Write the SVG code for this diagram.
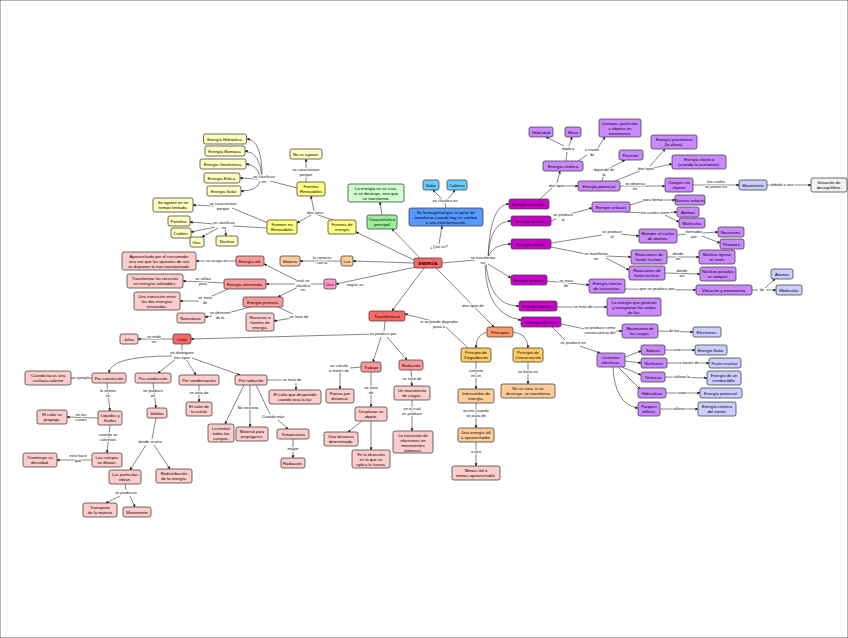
<svg xmlns="http://www.w3.org/2000/svg" width="848" height="638" viewBox="0 0 848 638">
<style>
rect{stroke:#444;stroke-width:0.8}
.t{font-family:"Liberation Sans",Arial,sans-serif;font-size:4.2px;text-anchor:middle;fill:#000}
.l{font-family:"Liberation Sans",Arial,sans-serif;font-size:4px;text-anchor:middle;fill:#111;stroke:#fff;stroke-width:1.6px;paint-order:stroke}
#c path{fill:none;stroke:#333;stroke-width:0.6}
.y1{fill:#ffff80}.y2{fill:#ffffc0}.g1{fill:#99ee99}.g2{fill:#ccffcc}.b1{fill:#5599ff}.b2{fill:#66ccff}
.m1{fill:#cc00cc}.m2{fill:#cc88ff}.m3{fill:#ccccff}.w{fill:#f2f2f2}
.r1{fill:#ff6666}.r2{fill:#ff9999}.r3{fill:#ffcccc}.o1{fill:#ff9966}.o2{fill:#ffcc66}.o3{fill:#ffcc99}.p{fill:#ff99cc}
</style>
<defs><marker id="a" viewBox="0 0 10 10" refX="9" refY="5" markerWidth="5" markerHeight="5" orient="auto"><path d="M0,0 L10,5 L0,10 z" fill="#222"/></marker></defs>
<rect x="0" y="0" width="848" height="638" fill="#fff" stroke="none"/>
<g id="c">
<path d="M439,244 L442,226" marker-end="url(#a)"/>
<path d="M420,258 L392,229" marker-end="url(#a)"/>
<path d="M382,215 L380,202" marker-end="url(#a)"/>
<path d="M414,260 L356,232" marker-end="url(#a)"/>
<path d="M414,263 L353,261" marker-end="url(#a)"/>
<path d="M341,261 L300,261" marker-end="url(#a)"/>
<path d="M416,267 L336,284" marker-end="url(#a)"/>
<path d="M424,268 L392,311" marker-end="url(#a)"/>
<path d="M436,268 L494,327" marker-end="url(#a)"/>
<path d="M442,263 L475,260"/>
<path d="M488,258 Q490,204 509,204" marker-end="url(#a)"/>
<path d="M488,258 Q490,221 511,221" marker-end="url(#a)"/>
<path d="M488,258 Q492,244 511,244" marker-end="url(#a)"/>
<path d="M488,264 L511,278" marker-end="url(#a)"/>
<path d="M486,264 Q490,306 519,306" marker-end="url(#a)"/>
<path d="M485,264 Q486,315 521,320" marker-end="url(#a)"/>
<path d="M446,208 L445,203"/><path d="M442,199 L433,190" marker-end="url(#a)"/><path d="M448,199 L455,190" marker-end="url(#a)"/>
<path d="M333,220 L318,215"/><path d="M314,211 L311,196" marker-end="url(#a)"/><path d="M311,215 L297,223" marker-end="url(#a)"/>
<path d="M306,182 L306,175"/><path d="M306,169 L306,159" marker-end="url(#a)"/>
<path d="M297,188 L270,181"/>
<path d="M262,177 Q262,140 247,139" marker-end="url(#a)"/>
<path d="M262,177 Q260,152 245,151" marker-end="url(#a)"/>
<path d="M260,177 Q258,165 246,164" marker-end="url(#a)"/>
<path d="M258,179 L240,178" marker-end="url(#a)"/>
<path d="M260,181 Q258,191 241,191" marker-end="url(#a)"/>
<path d="M268,223 L232,208"/><path d="M214,206 L193,205" marker-end="url(#a)"/>
<path d="M267,228 L233,226"/>
<path d="M215,224 L190,222" marker-end="url(#a)"/><path d="M215,227 L191,232" marker-end="url(#a)"/><path d="M218,228 L202,237" marker-end="url(#a)"/><path d="M225,228 L226,236" marker-end="url(#a)"/>
<path d="M324,284 L311,284"/>
<path d="M298,281 L264,264" marker-end="url(#a)"/><path d="M295,284 L266,284" marker-end="url(#a)"/><path d="M298,287 L278,297" marker-end="url(#a)"/>
<path d="M236,261 L196,261" marker-end="url(#a)"/>
<path d="M224,283 L183,281" marker-end="url(#a)"/>
<path d="M228,289 L210,297"/><path d="M199,301 L180,301" marker-end="url(#a)"/>
<path d="M250,307 L228,313"/><path d="M212,316 L205,317" marker-end="url(#a)"/>
<path d="M278,307 L293,314"/><path d="M292,318 L274,321" marker-end="url(#a)"/>
<path d="M385,321 L384,331"/>
<path d="M376,334 L191,339" marker-end="url(#a)"/>
<path d="M381,337 L373,362" marker-end="url(#a)"/>
<path d="M387,337 L407,360" marker-end="url(#a)"/>
<path d="M490,332 Q476,332 476,348" marker-end="url(#a)"/>
<path d="M510,332 Q528,332 528,348" marker-end="url(#a)"/>
<path d="M468,348 L446,327"/><path d="M432,321 L405,314" marker-end="url(#a)"/>
<path d="M476,362 L476,389" marker-end="url(#a)"/>
<path d="M476,403 L476,428" marker-end="url(#a)"/>
<path d="M476,442 L476,466" marker-end="url(#a)"/>
<path d="M528,362 L528,384" marker-end="url(#a)"/>
<path d="M361,367 L350,368"/><path d="M340,371 L340,389" marker-end="url(#a)"/>
<path d="M371,372 L371,407" marker-end="url(#a)"/>
<path d="M362,421 L348,432" marker-end="url(#a)"/>
<path d="M371,421 L371,450" marker-end="url(#a)"/>
<path d="M411,370 L412,386" marker-end="url(#a)"/>
<path d="M412,400 L412,431" marker-end="url(#a)"/>
<path d="M173,339 L138,339" marker-end="url(#a)"/>
<path d="M182,344 L182,351"/>
<path d="M172,356 Q110,356 109,373" marker-end="url(#a)"/>
<path d="M176,359 L158,373" marker-end="url(#a)"/>
<path d="M186,359 L196,375" marker-end="url(#a)"/>
<path d="M192,358 L240,375" marker-end="url(#a)"/>
<path d="M92,378 L71,378" marker-end="url(#a)"/>
<path d="M107,383 L110,411" marker-end="url(#a)"/>
<path d="M98,418 L67,417" marker-end="url(#a)"/>
<path d="M110,425 L107,453" marker-end="url(#a)"/>
<path d="M92,460 L57,460" marker-end="url(#a)"/>
<path d="M153,383 L156,408" marker-end="url(#a)"/>
<path d="M156,418 L152,439"/><path d="M146,445 L130,470" marker-end="url(#a)"/><path d="M154,445 L170,469" marker-end="url(#a)"/>
<path d="M125,484 L126,490"/><path d="M120,496 L106,503" marker-end="url(#a)"/><path d="M130,496 L135,507" marker-end="url(#a)"/>
<path d="M199,385 L199,402" marker-end="url(#a)"/>
<path d="M267,380 L283,380"/><path d="M296,383 L296,390" marker-end="url(#a)"/>
<path d="M244,385 L225,424" marker-end="url(#a)"/>
<path d="M250,385 L250,427" marker-end="url(#a)"/>
<path d="M256,385 L270,414"/><path d="M278,420 L288,429" marker-end="url(#a)"/>
<path d="M293,439 L293,458" marker-end="url(#a)"/>
<path d="M540,199 L552,188"/><path d="M557,183 L560,171" marker-end="url(#a)"/><path d="M563,186 L578,186" marker-end="url(#a)"/>
<path d="M566,161 L567,152"/><path d="M564,146 L546,137" marker-end="url(#a)"/><path d="M569,146 L572,137" marker-end="url(#a)"/>
<path d="M578,161 L587,155"/><path d="M597,149 L605,137" marker-end="url(#a)"/>
<path d="M602,181 L604,175"/><path d="M608,169 L625,160" marker-end="url(#a)"/>
<path d="M615,181 L640,171"/><path d="M650,166 L665,149" marker-end="url(#a)"/><path d="M653,168 L672,164" marker-end="url(#a)"/>
<path d="M620,186 L665,186" marker-end="url(#a)"/>
<path d="M693,185 L739,185" marker-end="url(#a)"/>
<path d="M767,185 L811,185" marker-end="url(#a)"/>
<path d="M551,221 L556,219"/><path d="M570,214 L592,208" marker-end="url(#a)"/>
<path d="M630,205 L643,201"/><path d="M663,200 L675,200" marker-end="url(#a)"/>
<path d="M625,212 L645,213"/><path d="M665,213 L677,212" marker-end="url(#a)"/><path d="M665,215 L679,222" marker-end="url(#a)"/>
<path d="M551,243 L602,235"/><path d="M621,234 L639,236" marker-end="url(#a)"/>
<path d="M677,235 L686,234"/><path d="M702,233 L718,232" marker-end="url(#a)"/><path d="M702,236 L720,243" marker-end="url(#a)"/>
<path d="M551,247 L586,254"/><path d="M606,256 L631,257" marker-end="url(#a)"/><path d="M606,258 L629,270" marker-end="url(#a)"/>
<path d="M667,257 L699,257" marker-end="url(#a)"/>
<path d="M665,273 L700,274" marker-end="url(#a)"/>
<path d="M547,281 L589,285" marker-end="url(#a)"/>
<path d="M625,289 L696,290" marker-end="url(#a)"/>
<path d="M752,290 L758,290"/><path d="M765,288 L775,279" marker-end="url(#a)"/><path d="M766,290 L776,290" marker-end="url(#a)"/>
<path d="M557,307 L607,307" marker-end="url(#a)"/>
<path d="M561,324 L585,329"/><path d="M616,331 L622,331" marker-end="url(#a)"/>
<path d="M658,331 L693,332" marker-end="url(#a)"/>
<path d="M552,327 L565,340"/><path d="M580,346 L600,353" marker-end="url(#a)"/>
<path d="M625,357 L641,351" marker-end="url(#a)"/>
<path d="M625,361 L641,363" marker-end="url(#a)"/>
<path d="M622,367 L641,375" marker-end="url(#a)"/>
<path d="M618,367 L640,389" marker-end="url(#a)"/>
<path d="M613,367 Q615,405 638,408" marker-end="url(#a)"/>
<path d="M665,350 L695,350" marker-end="url(#a)"/>
<path d="M667,363 L709,363" marker-end="url(#a)"/>
<path d="M665,377 L707,378" marker-end="url(#a)"/>
<path d="M666,393 L700,393" marker-end="url(#a)"/>
<path d="M660,409 L698,409" marker-end="url(#a)"/>
</g>
<g id="labels">
<text class="l" x="439" y="248">¿Qué es?</text>
<text class="l" x="322" y="259"><tspan x="322">la conecta</tspan><tspan x="322" dy="4.5">con la</tspan></text>
<text class="l" x="355" y="286">según su</text>
<text class="l" x="473" y="307">dos tipos de</text>
<text class="l" x="483" y="259"><tspan x="483">se transforma</tspan><tspan x="483" dy="4.5">en</tspan></text>
<text class="l" x="445" y="202">se clasifica en</text>
<text class="l" x="315" y="214">dos tipos</text>
<text class="l" x="306" y="171"><tspan x="306">se caracterizan</tspan><tspan x="306" dy="4.5">porque</tspan></text>
<text class="l" x="264" y="178"><tspan x="264">se clasifican</tspan><tspan x="264" dy="4.5">en</tspan></text>
<text class="l" x="223" y="205"><tspan x="223">se caracterizan</tspan><tspan x="223" dy="4.5">porque</tspan></text>
<text class="l" x="224" y="224"><tspan x="224">se clasifican</tspan><tspan x="224" dy="4.5">en</tspan></text>
<text class="l" x="303" y="282"><tspan x="303">está se</tspan><tspan x="303" dy="4.5">clasifica</tspan><tspan x="303" dy="4.5">en</tspan></text>
<text class="l" x="217" y="262">se ocupa en</text>
<text class="l" x="203" y="280"><tspan x="203">se utiliza</tspan><tspan x="203" dy="4.5">para</tspan></text>
<text class="l" x="205" y="299"><tspan x="205">se trata</tspan><tspan x="205" dy="4.5">de</tspan></text>
<text class="l" x="220" y="314"><tspan x="220">se obtienen</tspan><tspan x="220" dy="4.5">de la</tspan></text>
<text class="l" x="299" y="318">se trata de</text>
<text class="l" x="383" y="335">se produce por</text>
<text class="l" x="439" y="323"><tspan x="439">si se puede degradar</tspan><tspan x="439" dy="4.5">pasa a</tspan></text>
<text class="l" x="476" y="372"><tspan x="476">consiste</tspan><tspan x="476" dy="4.5">en un</tspan></text>
<text class="l" x="476" y="412"><tspan x="476">ocurre cuando</tspan><tspan x="476" dy="4.5">se pasa de</tspan></text>
<text class="l" x="476" y="453">a otra</text>
<text class="l" x="528" y="373">se basa en</text>
<text class="l" x="339" y="367"><tspan x="339">se calcula</tspan><tspan x="339" dy="4.5">a través de</tspan></text>
<text class="l" x="371" y="389"><tspan x="371">se trata</tspan><tspan x="371" dy="4.5">de</tspan></text>
<text class="l" x="412" y="380">se trata de</text>
<text class="l" x="412" y="410"><tspan x="412">en el cual</tspan><tspan x="412" dy="4.5">se produce</tspan></text>
<text class="l" x="154" y="338"><tspan x="154">se mide</tspan><tspan x="154" dy="4.5">en</tspan></text>
<text class="l" x="182" y="354"><tspan x="182">se distinguen</tspan><tspan x="182" dy="4.5">tres tipos</tspan></text>
<text class="l" x="80" y="379">por ejemplo</text>
<text class="l" x="108" y="392"><tspan x="108">lo vemos</tspan><tspan x="108" dy="4.5">en</tspan></text>
<text class="l" x="81" y="416"><tspan x="81">en los</tspan><tspan x="81" dy="4.5">cuales</tspan></text>
<text class="l" x="108" y="436"><tspan x="108">cuando se</tspan><tspan x="108" dy="4.5">calientan</tspan></text>
<text class="l" x="78" y="457"><tspan x="78">esto hace</tspan><tspan x="78" dy="4.5">que</tspan></text>
<text class="l" x="153" y="392"><tspan x="153">se produce</tspan><tspan x="153" dy="4.5">en</tspan></text>
<text class="l" x="150" y="443">donde ocurre</text>
<text class="l" x="126" y="494">se producen</text>
<text class="l" x="199" y="394">se trata de</text>
<text class="l" x="292" y="381">se trata de</text>
<text class="l" x="248" y="409">No necesita</text>
<text class="l" x="273" y="418">Cuando más</text>
<text class="l" x="293" y="450">mayor</text>
<text class="l" x="557" y="187">dos tipos</text>
<text class="l" x="568" y="150">implica</text>
<text class="l" x="592" y="151"><tspan x="592">a través</tspan><tspan x="592" dy="4.5">de</tspan></text>
<text class="l" x="604" y="171"><tspan x="604">depende de</tspan><tspan x="604" dy="4.5">la</tspan></text>
<text class="l" x="646" y="170">dos tipos</text>
<text class="l" x="635" y="185"><tspan x="635">se observa</tspan><tspan x="635" dy="4.5">en</tspan></text>
<text class="l" x="716" y="183"><tspan x="716">los cuales</tspan><tspan x="716" dy="4.5">se ponen en</tspan></text>
<text class="l" x="782" y="186">debido a una</text>
<text class="l" x="563" y="216"><tspan x="563">se produce</tspan><tspan x="563" dy="4.5">al</tspan></text>
<text class="l" x="653" y="201">para formar</text>
<text class="l" x="655" y="214">los cuales unen</text>
<text class="l" x="612" y="233"><tspan x="612">se produce</tspan><tspan x="612" dy="4.5">al</tspan></text>
<text class="l" x="694" y="233"><tspan x="694">formados</tspan><tspan x="694" dy="4.5">por</tspan></text>
<text class="l" x="596" y="255"><tspan x="596">se manifiesta</tspan><tspan x="596" dy="4.5">en</tspan></text>
<text class="l" x="678" y="255"><tspan x="678">donde</tspan><tspan x="678" dy="4.5">los</tspan></text>
<text class="l" x="682" y="272"><tspan x="682">donde</tspan><tspan x="682" dy="4.5">los</tspan></text>
<text class="l" x="566" y="282"><tspan x="566">se trata</tspan><tspan x="566" dy="4.5">de</tspan></text>
<text class="l" x="657" y="290">que se produce por</text>
<text class="l" x="762" y="291">de</text>
<text class="l" x="583" y="308">se trata de</text>
<text class="l" x="600" y="329"><tspan x="600">se produce como</tspan><tspan x="600" dy="4.5">consecuencia del</tspan></text>
<text class="l" x="674" y="332">de las</text>
<text class="l" x="573" y="344">se produce en</text>
<text class="l" x="677" y="351">usan</text>
<text class="l" x="689" y="364">a través de</text>
<text class="l" x="682" y="378">utilizan la</text>
<text class="l" x="682" y="394">usan</text>
<text class="l" x="679" y="410">utilizan</text>
</g>
<g id="n_energia" class="r1"><rect x="414" y="258" width="28" height="10" rx="2"/><text class="t" x="428" y="264.5" font-weight="bold">ENERGÍA</text></g>
<g id="n_mag" class="b1"><rect x="409" y="208" width="74" height="18" rx="2"/><text class="t" x="446" y="214"><tspan x="446">Es la magnitud que se pone de</tspan><tspan x="446" dy="5">manifiesto cuando hay un cambio</tspan><tspan x="446" dy="5">o una transformación.</tspan></text></g>
<g id="n_solar" class="b2"><rect x="423" y="180" width="16" height="10" rx="2"/><text class="t" x="431" y="186.5">Solar</text></g>
<g id="n_calorica" class="b2"><rect x="447" y="180" width="20" height="10" rx="2"/><text class="t" x="457" y="186.5">Calórica</text></g>
<g id="n_caract" class="g1"><rect x="367" y="215" width="30" height="14" rx="2"/><text class="t" x="382" y="221"><tspan x="382">Característica</tspan><tspan x="382" dy="5">principal</tspan></text></g>
<g id="n_nosecrea" class="g2"><rect x="348" y="184" width="56" height="18" rx="2"/><text class="t" x="376" y="190"><tspan x="376">La energía no se crea,</tspan><tspan x="376" dy="5">ni se destruye, sino que</tspan><tspan x="376" dy="5">se transforma.</tspan></text></g>
<g id="n_fuentes" class="y1"><rect x="328" y="220" width="28" height="14" rx="2"/><text class="t" x="342" y="226"><tspan x="342">Fuentes de</tspan><tspan x="342" dy="5">energía</tspan></text></g>
<g id="n_renov" class="y1"><rect x="297" y="182" width="28" height="14" rx="2"/><text class="t" x="311" y="188"><tspan x="311">Fuentes</tspan><tspan x="311" dy="5">Renovables</tspan></text></g>
<g id="n_norenov" class="y1"><rect x="267" y="220" width="30" height="14" rx="2"/><text class="t" x="282" y="226"><tspan x="282">Fuentes no</tspan><tspan x="282" dy="5">Renovables</tspan></text></g>
<g id="n_noagotan" class="y2"><rect x="290" y="149" width="32" height="10" rx="2"/><text class="t" x="306" y="155.5">No se agotan.</text></g>
<g id="n_hidr" class="y2"><rect x="203.5" y="134" width="43" height="10" rx="2"/><text class="t" x="225" y="140.5">Energía Hidráulica.</text></g>
<g id="n_biom" class="y2"><rect x="205" y="146" width="40" height="10" rx="2"/><text class="t" x="225" y="152.5">Energía Biomasa.</text></g>
<g id="n_geot" class="y2"><rect x="200" y="159" width="46" height="10" rx="2"/><text class="t" x="223" y="165.5">Energía Geotérmica.</text></g>
<g id="n_eol" class="y2"><rect x="204" y="173" width="36" height="10" rx="2"/><text class="t" x="222" y="179.5">Energía Eólica.</text></g>
<g id="n_sol" class="y2"><rect x="207" y="186" width="34" height="10" rx="2"/><text class="t" x="224" y="192.5">Energía Solar.</text></g>
<g id="n_seagotan" class="y2"><rect x="153" y="198" width="40" height="14" rx="2"/><text class="t" x="173" y="204"><tspan x="173">Se agotan en un</tspan><tspan x="173" dy="5">tiempo limitado.</tspan></text></g>
<g id="n_petroleo" class="y2"><rect x="168" y="216" width="22" height="10" rx="2"/><text class="t" x="179" y="222.5">Petróleo.</text></g>
<g id="n_carbon" class="y2"><rect x="171" y="228" width="20" height="10" rx="2"/><text class="t" x="181" y="234.5">Carbón.</text></g>
<g id="n_gas" class="y2"><rect x="190" y="237" width="14" height="10" rx="2"/><text class="t" x="197" y="243.5">Gas.</text></g>
<g id="n_nuclear" class="y2"><rect x="216" y="236" width="22" height="10" rx="2"/><text class="t" x="227" y="242.5">Nuclear</text></g>
<g id="n_luz" class="o3"><rect x="341" y="256" width="12" height="10" rx="2"/><text class="t" x="347" y="262.5">Luz</text></g>
<g id="n_materia" class="o3"><rect x="280" y="256" width="20" height="10" rx="2"/><text class="t" x="290" y="262.5">Materia</text></g>
<g id="n_uso" class="p"><rect x="324" y="279" width="12" height="10" rx="2"/><text class="t" x="330" y="285.5">Uso</text></g>
<g id="n_util" class="r2"><rect x="236" y="256" width="28" height="10" rx="2"/><text class="t" x="250" y="262.5">Energía útil.</text></g>
<g id="n_inter" class="r2"><rect x="224" y="279" width="42" height="10" rx="2"/><text class="t" x="245" y="285.5">Energía intermedia.</text></g>
<g id="n_prim" class="r2"><rect x="243" y="297" width="40" height="10" rx="2"/><text class="t" x="263" y="303.5">Energía primaria.</text></g>
<g id="n_aprov" class="r3"><rect x="122" y="252" width="74" height="18" rx="2"/><text class="t" x="159" y="258"><tspan x="159">Aprovechada por el consumidor</tspan><tspan x="159" dy="5">una vez que los aparatos de uso</tspan><tspan x="159" dy="5">se disponen la han transformado.</tspan></text></g>
<g id="n_transf" class="r3"><rect x="127" y="274" width="56" height="14" rx="2"/><text class="t" x="155" y="280"><tspan x="155">Transformar los recursos</tspan><tspan x="155" dy="5">en energías utilizables.</tspan></text></g>
<g id="n_transic" class="r3"><rect x="134" y="292" width="46" height="18" rx="2"/><text class="t" x="157" y="298"><tspan x="157">Una transición entre</tspan><tspan x="157" dy="5">las dos energías</tspan><tspan x="157" dy="5">renovadas.</tspan></text></g>
<g id="n_natur" class="r3"><rect x="177" y="313" width="28" height="10" rx="2"/><text class="t" x="191" y="319.5">Naturaleza.</text></g>
<g id="n_recursos" class="r3"><rect x="246" y="313" width="28" height="18" rx="2"/><text class="t" x="260" y="319"><tspan x="260">Recursos o</tspan><tspan x="260" dy="5">fuentes de</tspan><tspan x="260" dy="5">energía.</tspan></text></g>
<g id="n_transferencia" class="r1"><rect x="369" y="311" width="36" height="10" rx="2"/><text class="t" x="387" y="317.5">Transferencia</text></g>
<g id="n_principios" class="o1"><rect x="487" y="327" width="26" height="10" rx="2"/><text class="t" x="500" y="333.5">Principios</text></g>
<g id="n_degr" class="o2"><rect x="461" y="348" width="30" height="14" rx="2"/><text class="t" x="476" y="354"><tspan x="476">Principio de</tspan><tspan x="476" dy="5">Degradación</tspan></text></g>
<g id="n_cons" class="o2"><rect x="513" y="348" width="30" height="14" rx="2"/><text class="t" x="528" y="354"><tspan x="528">Principio de</tspan><tspan x="528" dy="5">Conservación</tspan></text></g>
<g id="n_interc" class="o3"><rect x="458" y="389" width="36" height="14" rx="2"/><text class="t" x="476" y="395"><tspan x="476">Intercambio de</tspan><tspan x="476" dy="5">energía.</tspan></text></g>
<g id="n_unaen" class="o3"><rect x="458" y="428" width="36" height="14" rx="2"/><text class="t" x="476" y="434"><tspan x="476">Una energía útil</tspan><tspan x="476" dy="5">a aprovechable.</tspan></text></g>
<g id="n_menos" class="r3"><rect x="452" y="466" width="48" height="14" rx="2"/><text class="t" x="476" y="472"><tspan x="476">Menos útil o</tspan><tspan x="476" dy="5">menos aprovechable.</tspan></text></g>
<g id="n_nosecrea2" class="o3"><rect x="501" y="384" width="54" height="14" rx="2"/><text class="t" x="528" y="390"><tspan x="528">No se crea, ni se</tspan><tspan x="528" dy="5">destruye, se transforma</tspan></text></g>
<g id="n_trabajo" class="r2"><rect x="361" y="362" width="20" height="10" rx="2"/><text class="t" x="371" y="368.5">Trabajo</text></g>
<g id="n_radiacion" class="r2"><rect x="399" y="360" width="24" height="10" rx="2"/><text class="t" x="411" y="366.5">Radiación</text></g>
<g id="n_fuerza" class="r3"><rect x="326" y="389" width="28" height="14" rx="2"/><text class="t" x="340" y="395"><tspan x="340">Fuerza por</tspan><tspan x="340" dy="5">distancia.</tspan></text></g>
<g id="n_despl" class="r3"><rect x="355" y="407" width="32" height="14" rx="2"/><text class="t" x="371" y="413"><tspan x="371">Desplazar un</tspan><tspan x="371" dy="5">objeto.</tspan></text></g>
<g id="n_dist" class="r3"><rect x="324" y="432" width="34" height="14" rx="2"/><text class="t" x="341" y="438"><tspan x="341">Una distancia</tspan><tspan x="341" dy="5">determinada.</tspan></text></g>
<g id="n_dir" class="r3"><rect x="352" y="450" width="38" height="18" rx="2"/><text class="t" x="371" y="456"><tspan x="371">En la dirección</tspan><tspan x="371" dy="5">en la que se</tspan><tspan x="371" dy="5">aplica la fuerza.</tspan></text></g>
<g id="n_movcar" class="r3"><rect x="394" y="386" width="36" height="14" rx="2"/><text class="t" x="412" y="392"><tspan x="412">Un movimiento</tspan><tspan x="412" dy="5">de cargas.</tspan></text></g>
<g id="n_transel" class="r3"><rect x="393" y="431" width="40" height="22" rx="2"/><text class="t" x="413" y="437"><tspan x="413">La transición de</tspan><tspan x="413" dy="5">electrones en</tspan><tspan x="413" dy="5">movimientos</tspan><tspan x="413" dy="5">atómicos.</tspan></text></g>
<g id="n_calor" class="r1"><rect x="173" y="334" width="18" height="10" rx="2"/><text class="t" x="182" y="340.5">Calor</text></g>
<g id="n_julios" class="r3"><rect x="120" y="334" width="18" height="10" rx="2"/><text class="t" x="129" y="340.5">Julios</text></g>
<g id="n_conv" class="r3"><rect x="92" y="373" width="34" height="10" rx="2"/><text class="t" x="109" y="379.5">Por convección</text></g>
<g id="n_cond" class="r3"><rect x="135" y="373" width="36" height="10" rx="2"/><text class="t" x="153" y="379.5">Por conducción</text></g>
<g id="n_conden" class="r3"><rect x="179" y="375" width="40" height="10" rx="2"/><text class="t" x="199" y="381.5">Por condensación</text></g>
<g id="n_porrad" class="r3"><rect x="235" y="375" width="32" height="10" rx="2"/><text class="t" x="251" y="381.5">Por radiación</text></g>
<g id="n_cuchara" class="r3"><rect x="25" y="371" width="46" height="14" rx="2"/><text class="t" x="48" y="377"><tspan x="48">Cuando tocas una</tspan><tspan x="48" dy="5">cuchara caliente</tspan></text></g>
<g id="n_liq" class="r3"><rect x="98" y="411" width="24" height="14" rx="2"/><text class="t" x="110" y="417"><tspan x="110">Líquidos y</tspan><tspan x="110" dy="5">fluidos</tspan></text></g>
<g id="n_propaga" class="r3"><rect x="37" y="410" width="30" height="14" rx="2"/><text class="t" x="52" y="416"><tspan x="52">El calor se</tspan><tspan x="52" dy="5">propaga.</tspan></text></g>
<g id="n_dilatan" class="r3"><rect x="92" y="453" width="30" height="14" rx="2"/><text class="t" x="107" y="459"><tspan x="107">Los cuerpos</tspan><tspan x="107" dy="5">se dilatan.</tspan></text></g>
<g id="n_densidad" class="r3"><rect x="23" y="453" width="34" height="14" rx="2"/><text class="t" x="40" y="459"><tspan x="40">Disminuye su</tspan><tspan x="40" dy="5">densidad.</tspan></text></g>
<g id="n_solidos" class="r3"><rect x="147" y="408" width="20" height="10" rx="2"/><text class="t" x="157" y="414.5">Sólidos</text></g>
<g id="n_vibran" class="r3"><rect x="109" y="470" width="32" height="14" rx="2"/><text class="t" x="125" y="476"><tspan x="125">Las partículas</tspan><tspan x="125" dy="5">vibran.</tspan></text></g>
<g id="n_redist" class="r3"><rect x="156" y="469" width="36" height="14" rx="2"/><text class="t" x="174" y="475"><tspan x="174">Redistribución</tspan><tspan x="174" dy="5">de la energía.</tspan></text></g>
<g id="n_transp" class="r3"><rect x="83" y="503" width="34" height="14" rx="2"/><text class="t" x="100" y="509"><tspan x="100">Transporte</tspan><tspan x="100" dy="5">de la materia</tspan></text></g>
<g id="n_movim" class="r3"><rect x="123" y="507" width="28" height="10" rx="2"/><text class="t" x="137" y="513.5">Movimiento</text></g>
<g id="n_estufa" class="r3"><rect x="186" y="402" width="26" height="14" rx="2"/><text class="t" x="199" y="408"><tspan x="199">El calor de</tspan><tspan x="199" dy="5">la estufa</tspan></text></g>
<g id="n_desprende" class="r3"><rect x="269" y="390" width="52" height="14" rx="2"/><text class="t" x="295" y="396"><tspan x="295">El calor que desprende</tspan><tspan x="295" dy="5">cuando toca la luz.</tspan></text></g>
<g id="n_emiten" class="r3"><rect x="208" y="424" width="26" height="18" rx="2"/><text class="t" x="221" y="430"><tspan x="221">La emiten</tspan><tspan x="221" dy="5">todos los</tspan><tspan x="221" dy="5">cuerpos.</tspan></text></g>
<g id="n_material" class="r3"><rect x="236" y="427" width="32" height="14" rx="2"/><text class="t" x="252" y="433"><tspan x="252">Material para</tspan><tspan x="252" dy="5">propagarse.</tspan></text></g>
<g id="n_temp" class="r3"><rect x="277" y="429" width="32" height="10" rx="2"/><text class="t" x="293" y="435.5">Temperatura</text></g>
<g id="n_rad2" class="r3"><rect x="281" y="458" width="24" height="10" rx="2"/><text class="t" x="293" y="464.5">Radiación.</text></g>
<g id="n_mec" class="m1"><rect x="509" y="199" width="40" height="10" rx="2"/><text class="t" x="529" y="205.5">Energía mecánica</text></g>
<g id="n_quim" class="m1"><rect x="511" y="216" width="40" height="10" rx="2"/><text class="t" x="531" y="222.5">Energía química</text></g>
<g id="n_nuc" class="m1"><rect x="511" y="239" width="40" height="10" rx="2"/><text class="t" x="531" y="245.5">Energía nuclear</text></g>
<g id="n_term" class="m1"><rect x="511" y="275" width="36" height="10" rx="2"/><text class="t" x="529" y="281.5">Energía térmica.</text></g>
<g id="n_lum" class="m1"><rect x="519" y="301" width="38" height="10" rx="2"/><text class="t" x="538" y="307.5">Energía lumínica</text></g>
<g id="n_elec" class="m1"><rect x="521" y="317" width="40" height="10" rx="2"/><text class="t" x="541" y="323.5">Energía eléctrica</text></g>
<g id="n_cin" class="m2"><rect x="543" y="161" width="40" height="10" rx="2"/><text class="t" x="563" y="167.5">Energía cinética</text></g>
<g id="n_pot" class="m2"><rect x="578" y="181" width="42" height="10" rx="2"/><text class="t" x="599" y="187.5">Energía potencial</text></g>
<g id="n_vel" class="m2"><rect x="529" y="127" width="24" height="10" rx="2"/><text class="t" x="541" y="133.5">Velocidad</text></g>
<g id="n_masa" class="m2"><rect x="565" y="127" width="16" height="10" rx="2"/><text class="t" x="573" y="133.5">Masa</text></g>
<g id="n_cuerpos" class="m2"><rect x="599" y="119" width="42" height="18" rx="2"/><text class="t" x="620" y="125"><tspan x="620">Cuerpos, partículas</tspan><tspan x="620" dy="5">u objetos en</tspan><tspan x="620" dy="5">movimiento.</tspan></text></g>
<g id="n_pos" class="m2"><rect x="619" y="150" width="24" height="10" rx="2"/><text class="t" x="631" y="156.5">Posición.</text></g>
<g id="n_grav" class="m2"><rect x="651" y="135" width="46" height="14" rx="2"/><text class="t" x="674" y="141"><tspan x="674">Energía gravitatoria</tspan><tspan x="674" dy="5">(la altura).</tspan></text></g>
<g id="n_elas" class="m2"><rect x="672" y="155" width="54" height="14" rx="2"/><text class="t" x="699" y="161"><tspan x="699">Energía elástica</tspan><tspan x="699" dy="5">(cuando la estiramos).</tspan></text></g>
<g id="n_reposo" class="m2"><rect x="665" y="178" width="28" height="14" rx="2"/><text class="t" x="679" y="184"><tspan x="679">Cuerpos en</tspan><tspan x="679" dy="5">reposo</tspan></text></g>
<g id="n_movimiento" class="m3"><rect x="739" y="180" width="28" height="10" rx="2"/><text class="t" x="753" y="186.5">Movimiento</text></g>
<g id="n_situacion" class="w"><rect x="811" y="178" width="36" height="14" rx="2"/><text class="t" x="829" y="184"><tspan x="829">Situación de</tspan><tspan x="829" dy="5">desequilibrio.</tspan></text></g>
<g id="n_romper" class="m2"><rect x="592" y="202" width="38" height="10" rx="2"/><text class="t" x="611" y="208.5">Romper enlaces</text></g>
<g id="n_nuevos" class="m2"><rect x="675" y="195" width="30" height="10" rx="2"/><text class="t" x="690" y="201.5">Nuevos enlaces</text></g>
<g id="n_atomos" class="m2"><rect x="677" y="207" width="22" height="10" rx="2"/><text class="t" x="688" y="213.5">Átomos</text></g>
<g id="n_molec" class="m2"><rect x="679" y="218" width="26" height="10" rx="2"/><text class="t" x="692" y="224.5">Moléculas</text></g>
<g id="n_romnuc" class="m2"><rect x="639" y="229" width="38" height="14" rx="2"/><text class="t" x="658" y="235"><tspan x="658">Romper el núcleo</tspan><tspan x="658" dy="5">de átomos.</tspan></text></g>
<g id="n_neutr" class="m2"><rect x="718" y="227" width="26" height="10" rx="2"/><text class="t" x="731" y="233.5">Neutrones.</text></g>
<g id="n_prot" class="m2"><rect x="720" y="239" width="24" height="10" rx="2"/><text class="t" x="732" y="245.5">Protones.</text></g>
<g id="n_fusion" class="m2"><rect x="631" y="250" width="36" height="14" rx="2"/><text class="t" x="649" y="256"><tspan x="649">Reacciones de</tspan><tspan x="649" dy="5">fusión nuclear.</tspan></text></g>
<g id="n_fision" class="m2"><rect x="629" y="266" width="36" height="14" rx="2"/><text class="t" x="647" y="272"><tspan x="647">Reacciones de</tspan><tspan x="647" dy="5">fisión nuclear.</tspan></text></g>
<g id="n_ligeros" class="m2"><rect x="699" y="250" width="36" height="14" rx="2"/><text class="t" x="717" y="256"><tspan x="717">Núcleos ligeros</tspan><tspan x="717" dy="5">se unen.</tspan></text></g>
<g id="n_pesados" class="m2"><rect x="700" y="267" width="36" height="14" rx="2"/><text class="t" x="718" y="273"><tspan x="718">Núcleos pesados</tspan><tspan x="718" dy="5">se rompen.</tspan></text></g>
<g id="n_interna" class="m2"><rect x="589" y="279" width="36" height="14" rx="2"/><text class="t" x="607" y="285"><tspan x="607">Energía interna</tspan><tspan x="607" dy="5">de sustancias.</tspan></text></g>
<g id="n_vibr" class="m2"><rect x="696" y="285" width="56" height="10" rx="2"/><text class="t" x="724" y="291.5">Vibración y movimiento.</text></g>
<g id="n_atomos2" class="m3"><rect x="771" y="269" width="22" height="10" rx="2"/><text class="t" x="782" y="275.5">Átomos</text></g>
<g id="n_molec2" class="m3"><rect x="776" y="285" width="26" height="10" rx="2"/><text class="t" x="789" y="291.5">Moléculas</text></g>
<g id="n_ondas" class="m2"><rect x="607" y="298" width="54" height="18" rx="2"/><text class="t" x="634" y="304"><tspan x="634">La energía que generan</tspan><tspan x="634" dy="5">y transportan las ondas</tspan><tspan x="634" dy="5">de luz.</tspan></text></g>
<g id="n_movcargas" class="m2"><rect x="622" y="324" width="36" height="14" rx="2"/><text class="t" x="640" y="330"><tspan x="640">Movimiento de</tspan><tspan x="640" dy="5">las cargas.</tspan></text></g>
<g id="n_electrones" class="m3"><rect x="693" y="327" width="28" height="10" rx="2"/><text class="t" x="707" y="333.5">Electrones.</text></g>
<g id="n_centrales" class="m2"><rect x="597" y="353" width="28" height="14" rx="2"/><text class="t" x="611" y="359"><tspan x="611">Centrales</tspan><tspan x="611" dy="5">eléctricas.</tspan></text></g>
<g id="n_solares" class="m2"><rect x="641" y="345" width="24" height="10" rx="2"/><text class="t" x="653" y="351.5">Solares</text></g>
<g id="n_nucleares" class="m2"><rect x="641" y="358" width="26" height="10" rx="2"/><text class="t" x="654" y="364.5">Nucleares</text></g>
<g id="n_termicas" class="m2"><rect x="641" y="372" width="24" height="10" rx="2"/><text class="t" x="653" y="378.5">Térmicas</text></g>
<g id="n_hidraulicas" class="m2"><rect x="638" y="388" width="28" height="10" rx="2"/><text class="t" x="652" y="394.5">Hidráulicas</text></g>
<g id="n_parques" class="m2"><rect x="638" y="402" width="22" height="14" rx="2"/><text class="t" x="649" y="408"><tspan x="649">Parques</tspan><tspan x="649" dy="5">eólicos.</tspan></text></g>
<g id="n_esolar" class="m3"><rect x="695" y="345" width="32" height="10" rx="2"/><text class="t" x="711" y="351.5">Energía Solar.</text></g>
<g id="n_fisnuc" class="m3"><rect x="709" y="358" width="32" height="10" rx="2"/><text class="t" x="725" y="364.5">Fisión nuclear.</text></g>
<g id="n_comb" class="m3"><rect x="707" y="371" width="34" height="14" rx="2"/><text class="t" x="724" y="377"><tspan x="724">Energía de un</tspan><tspan x="724" dy="5">combustible.</tspan></text></g>
<g id="n_epot" class="m3"><rect x="700" y="388" width="42" height="10" rx="2"/><text class="t" x="721" y="394.5">Energía potencial.</text></g>
<g id="n_ecin" class="m3"><rect x="698" y="402" width="38" height="14" rx="2"/><text class="t" x="717" y="408"><tspan x="717">Energía cinética</tspan><tspan x="717" dy="5">del viento.</tspan></text></g>
</svg>
